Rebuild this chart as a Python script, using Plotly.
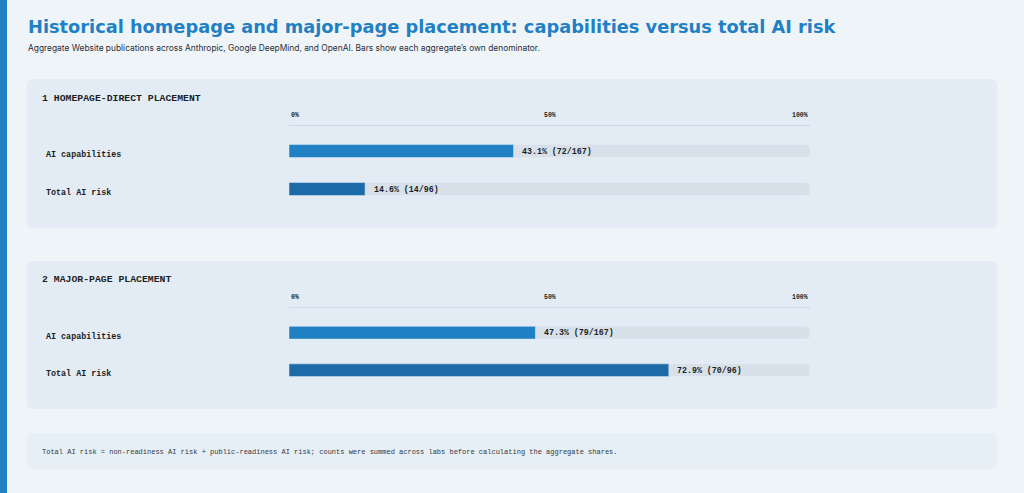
import plotly.graph_objects as go

# data
categories = ["AI capabilities", "Total AI risk"]
panels = ["1 HOMEPAGE-DIRECT PLACEMENT", "2 MAJOR-PAGE PLACEMENT"]
homepage_pct = [43.1, 14.6]
homepage_counts = ["72/167", "14/96"]
major_pct = [47.3, 72.9]
major_counts = ["79/167", "70/96"]
tick_vals = [0, 50, 100]
tick_text = ["0%", "50%", "100%"]

W, H = 1024, 493
BG = "#eff4f9"
PANEL = "#e3ecf5"
TRACK = "#d8e0ea"
BLUE = "#1f80c4"
BLUE_DARK = "#1c6aa8"
bar_colors = [BLUE, BLUE_DARK]
MONO = "Liberation Mono, DejaVu Sans Mono, monospace"
SANS = "Inter, Noto Sans, sans-serif"
TEXT = "#1b1f24"


def px(x):
    return x / W


def py(y):
    return 1 - y / H


def rounded_rect(x0, y0, x1, y1, r):
    # path in paper coords, built from pixel corners
    X = lambda v: f"{px(v):.5f}"
    Y = lambda v: f"{py(v):.5f}"
    return (f"M {X(x0 + r)},{Y(y0)} L {X(x1 - r)},{Y(y0)} Q {X(x1)},{Y(y0)} {X(x1)},{Y(y0 + r)} "
            f"L {X(x1)},{Y(y1 - r)} Q {X(x1)},{Y(y1)} {X(x1 - r)},{Y(y1)} "
            f"L {X(x0 + r)},{Y(y1)} Q {X(x0)},{Y(y1)} {X(x0)},{Y(y1 - r)} "
            f"L {X(x0)},{Y(y0 + r)} Q {X(x0)},{Y(y0)} {X(x0 + r)},{Y(y0)} Z")


fig = go.Figure()

series = [(homepage_pct, homepage_counts), (major_pct, major_counts)]
axes = [("x", "y"), ("x2", "y2")]

annotations = []
for i, ((pct, counts), (xa, ya)) in enumerate(zip(series, axes)):
    fig.add_trace(go.Bar(
        y=categories, x=[100] * len(categories), orientation="h",
        marker=dict(color=TRACK, cornerradius=4), width=0.34,
        xaxis=xa, yaxis=ya, hoverinfo="skip", showlegend=False))
    fig.add_trace(go.Bar(
        y=categories, x=pct, orientation="h",
        marker=dict(color=bar_colors, cornerradius=4), width=0.34,
        xaxis=xa, yaxis=ya, showlegend=False,
        hovertemplate="%{y}: %{x:.1f}%<extra></extra>"))
    for cat, v, c in zip(categories, pct, counts):
        annotations.append(dict(
            x=v, y=cat, xref=xa, yref=ya, text=f"{v:.1f}% ({c})",
            xanchor="left", yanchor="middle", xshift=6.5, showarrow=False,
            font=dict(family=MONO, size=8.3, color=TEXT, weight="bold")))
        annotations.append(dict(
            x=px(44), y=cat, xref="paper", yref=ya, text=cat,
            xanchor="left", yanchor="middle", yshift=-4, showarrow=False,
            font=dict(family=MONO, size=8.4, color=TEXT, weight="bold")))
    for tv, tt in zip(tick_vals, tick_text):
        annotations.append(dict(
            x=tv, y=1, xref=xa, yref=ya + " domain", text=tt,
            xanchor={0: "left", 50: "center", 100: "right"}[tv],
            yanchor="bottom", yshift=5, showarrow=False,
            font=dict(family=MONO, size=6.5, color=TEXT, weight="bold")))

# panel headings
for name, ypix in zip(panels, [98, 279]):
    annotations.append(dict(
        x=px(40), y=py(ypix), xref="paper", yref="paper", text=name,
        xanchor="left", yanchor="middle", showarrow=False,
        font=dict(family=MONO, size=9.8, color=TEXT, weight="bold")))

annotations += [
    dict(x=px(26), y=py(26), xref="paper", yref="paper",
         text="Historical homepage and major-page placement: capabilities versus total AI risk",
         xanchor="left", yanchor="middle", showarrow=False,
         font=dict(family="DejaVu Sans, sans-serif", size=17.8, color=BLUE, weight="bold")),
    dict(x=px(26), y=py(48), xref="paper", yref="paper",
         text="Aggregate Website publications across Anthropic, Google DeepMind, and OpenAI. Bars show each aggregate\u2019s own denominator.",
         xanchor="left", yanchor="middle", showarrow=False,
         font=dict(family=SANS, size=8.4, color="#2a2f36")),
    dict(x=px(40), y=py(452), xref="paper", yref="paper",
         text="Total AI risk = non-readiness AI risk + public-readiness AI risk; counts were summed across labs before calculating the aggregate shares.",
         xanchor="left", yanchor="middle", showarrow=False,
         font=dict(family=MONO, size=7, color="#333a42")),
]

shapes = [
    dict(type="rect", xref="paper", yref="paper", x0=0, x1=px(7), y0=0, y1=1,
         fillcolor=BLUE, line_width=0, layer="below"),
    dict(type="path", xref="paper", yref="paper", path=rounded_rect(27, 79, 997, 228, 6),
         fillcolor=PANEL, line_width=0, layer="below"),
    dict(type="path", xref="paper", yref="paper", path=rounded_rect(27, 261, 997, 409, 6),
         fillcolor=PANEL, line_width=0, layer="below"),
    dict(type="path", xref="paper", yref="paper", path=rounded_rect(27, 433, 997, 469, 6),
         fillcolor="#e6eef6", line_width=0, layer="below"),
]

xdom = [px(289), px(810)]
xaxis_style = dict(range=[0, 100], domain=xdom, side="top", showline=True,
                   linecolor="#cdd8e4", linewidth=1, showgrid=False, zeroline=False,
                   showticklabels=False, ticks="", fixedrange=True)
yaxis_style = dict(type="category", range=[1.5, -0.66], showticklabels=False,
                   showgrid=False, zeroline=False, ticks="", fixedrange=True)

fig.update_layout(
    width=W, height=H, margin=dict(l=0, r=0, t=0, b=0),
    paper_bgcolor=BG, plot_bgcolor="rgba(0,0,0,0)",
    barmode="overlay", showlegend=False,
    xaxis=dict(**xaxis_style, anchor="y"),
    yaxis=dict(**yaxis_style, domain=[py(208), py(126)], anchor="x"),
    xaxis2=dict(**xaxis_style, anchor="y2"),
    yaxis2=dict(**yaxis_style, domain=[py(389), py(308)], anchor="x2"),
    annotations=annotations, shapes=shapes,
)

# drop the browser's default page margin so the figure sits at the window origin
fig.write_html("out.html", config={"displayModeBar": False},
               post_script="document.body.style.margin='0';")
